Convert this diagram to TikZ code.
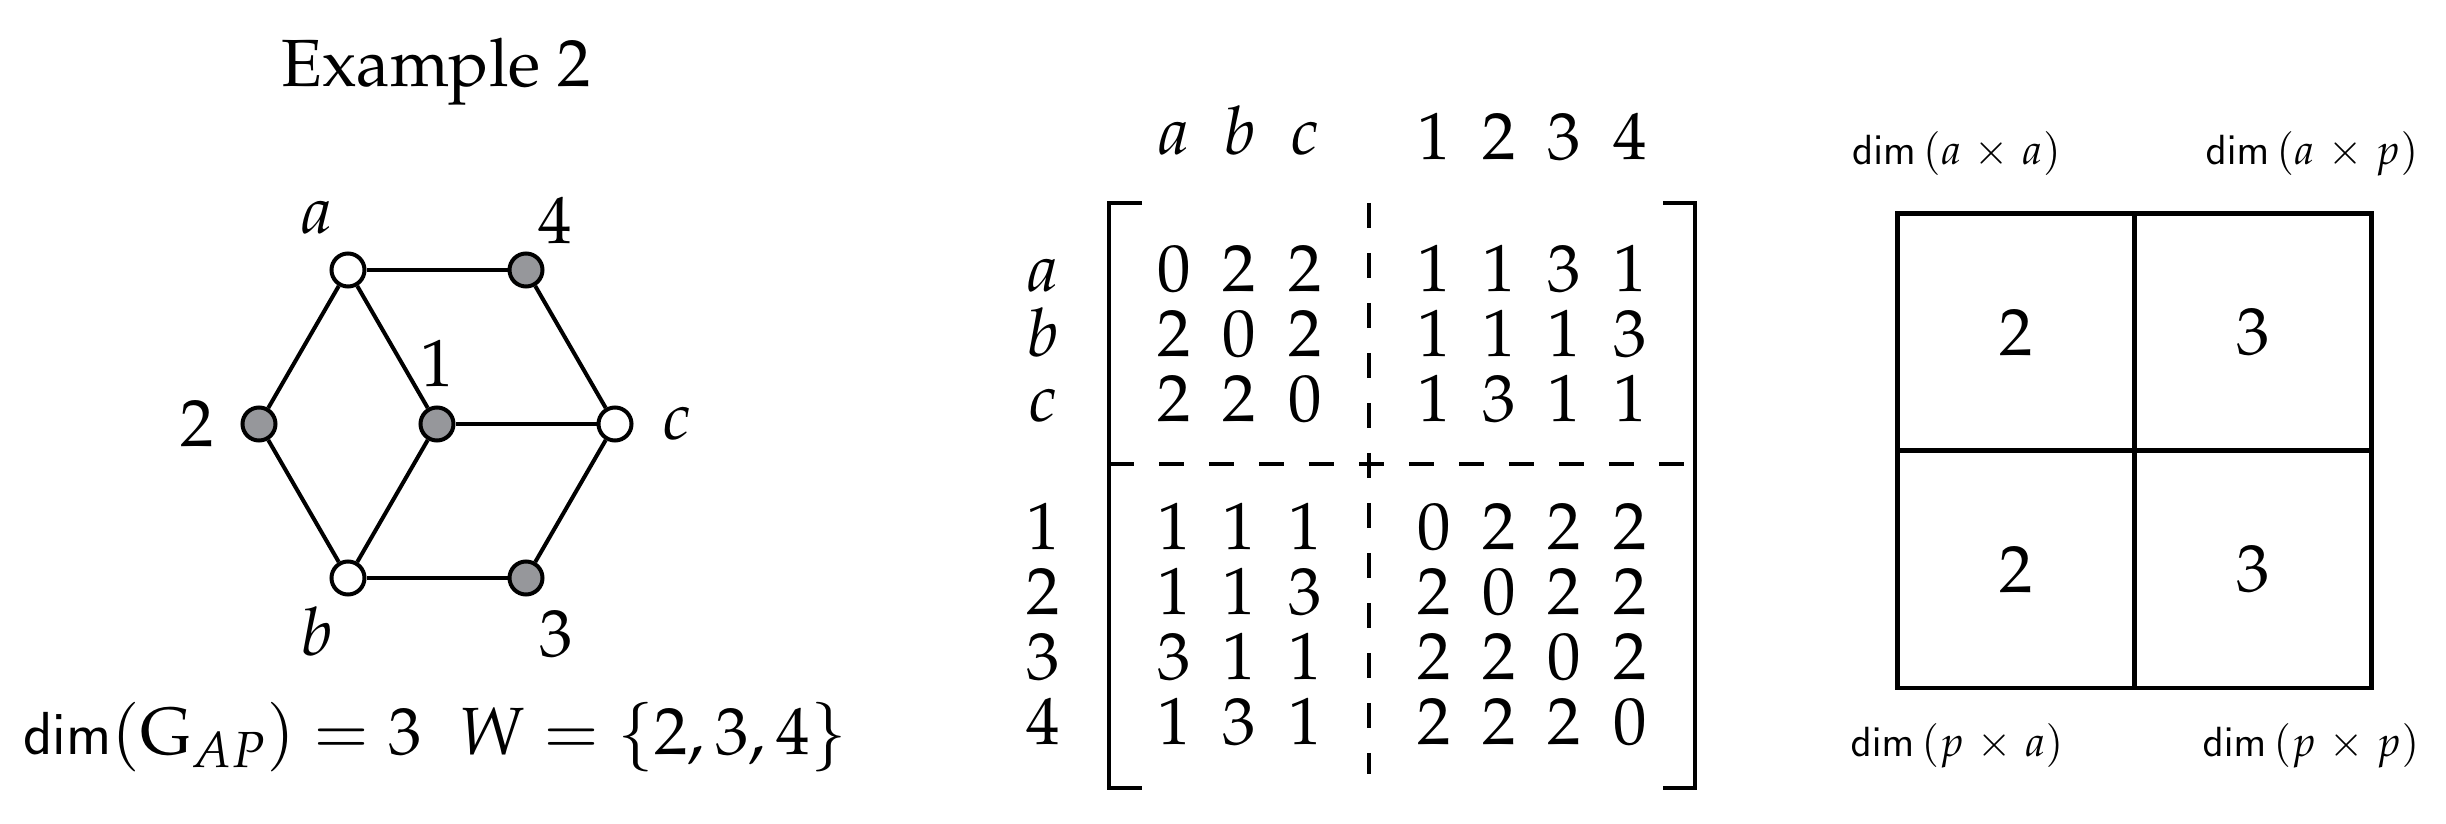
\documentclass[tikz,border=0pt]{standalone}
\usepackage[T1]{fontenc}
\usepackage{mathpazo}
\definecolor{vgray}{RGB}{150,151,155}

\begin{document}
\begin{tikzpicture}[
    line width=1.14pt,
    vert/.style={circle, draw, line width=1.14pt, inner sep=0pt, minimum size=0.33cm},
    avert/.style={vert, fill=white},
    pvert/.style={vert, fill=vgray},
    vlab/.style={inner sep=0pt, font=\fontsize{19}{23}\selectfont},
    entry/.style={anchor=base, inner sep=0pt, font=\fontsize{19}{23}\selectfont},
    cell/.style={draw, line width=1.42pt, minimum width=2.365cm, minimum height=2.37cm, inner sep=0pt, font=\fontsize{19}{23}\selectfont},
    dimlab/.style={anchor=base, inner sep=0pt, font=\fontsize{12}{14}\selectfont},
    blockdash/.style={dash pattern=on 0.25cm off 0.25cm}
  ]
    \useasboundingbox (0,0) rectangle (24.46,8.23);

    % title
    \node[entry] (title) at (4.36,7.36) {Example 2};

    % graph vertices
    \node[avert] (a) at (3.48,5.53) {};
    \node[pvert] (v4) at (5.26,5.53) {};
    \node[pvert] (v2) at (2.59,3.99) {};
    \node[pvert] (v1) at (4.37,3.99) {};
    \node[avert] (c) at (6.15,3.99) {};
    \node[avert] (b) at (3.48,2.45) {};
    \node[pvert] (v3) at (5.26,2.45) {};

    % edges
    \draw (a) -- (v4);
    \draw (a) -- (v2);
    \draw (a) -- (v1);
    \draw (v4) -- (c);
    \draw (v2) -- (b);
    \draw (v1) -- (b);
    \draw (v1) -- (c);
    \draw (c) -- (v3);
    \draw (b) -- (v3);

    % vertex labels
    \node[vlab] (la) at ([shift={(-0.31,0.52)}]a) {$a$};
    \node[vlab] (l4) at ([shift={(0.29,0.50)}]v4) {$4$};
    \node[vlab] (l1) at ([shift={(0,0.61)}]v1) {$1$};
    \node[vlab] (l2) at ([shift={(-0.62,0)}]v2) {$2$};
    \node[vlab] (lc) at ([shift={(0.62,0)}]c) {$c$};
    \node[vlab] (lb) at ([shift={(-0.31,-0.54)}]b) {$b$};
    \node[vlab] (l3) at ([shift={(0.30,-0.56)}]v3) {$3$};

    % dimension and resolving set
    \node[entry] (gdim) at (4.35,0.68) {$\mathsf{dim}(\mathrm{G}_{AP}) = 3\;\;W = \{2,3,4\}$};

    % column and row headers
    \foreach \lab [count=\i] in {a,b,c}
      \node[entry] (h\lab) at ({11.74+0.655*(\i-1)},6.68) {$\lab$};
    \foreach \lab [count=\i] in {1,2,3,4}
      \node[entry] (h\lab) at ({14.34+0.653*(\i-1)},6.63) {$\lab$};
    \foreach \lab [count=\i] in {a,b,c}
      \node[entry] (r\lab) at (10.43,{5.31-0.65*(\i-1)}) {$\lab$};
    \foreach \lab [count=\i] in {1,2,3,4}
      \node[entry] (r\lab) at (10.43,{2.73-0.65*(\i-1)}) {$\lab$};

    % brackets
    \draw (11.42,6.20) -- (11.09,6.20) -- (11.09,0.35) -- (11.42,0.35);
    \draw (16.63,6.20) -- (16.95,6.20) -- (16.95,0.35) -- (16.63,0.35);

    % block separators
    \draw[blockdash] (13.69,6.20) -- (13.69,0.49);
    \draw[blockdash] (11.09,3.59) -- (16.84,3.59);

    % blocks
    \foreach \vals [count=\i] in {{0,2,2},{2,0,2},{2,2,0}}
      \foreach \v [count=\j] in \vals
        \node[entry] (aa\i\j) at ({11.74+0.655*(\j-1)},{5.31-0.65*(\i-1)}) {$\v$};
    \foreach \vals [count=\i] in {{1,1,3,1},{1,1,1,3},{1,3,1,1}}
      \foreach \v [count=\j] in \vals
        \node[entry] (ap\i\j) at ({14.34+0.653*(\j-1)},{5.31-0.65*(\i-1)}) {$\v$};
    \foreach \vals [count=\i] in {{1,1,1},{1,1,3},{3,1,1},{1,3,1}}
      \foreach \v [count=\j] in \vals
        \node[entry] (pa\i\j) at ({11.74+0.655*(\j-1)},{2.73-0.65*(\i-1)}) {$\v$};
    \foreach \vals [count=\i] in {{0,2,2,2},{2,0,2,2},{2,2,0,2},{2,2,2,0}}
      \foreach \v [count=\j] in \vals
        \node[entry] (pp\i\j) at ({14.34+0.653*(\j-1)},{2.73-0.65*(\i-1)}) {$\v$};

    % dimension blocks
    \node[cell] (daa) at (20.16,4.905) {$2$};
    \node[cell] (dap) at (22.53,4.905) {$3$};
    \node[cell] (dpa) at (20.16,2.535) {$2$};
    \node[cell] (dpp) at (22.53,2.535) {$3$};

    \node[dimlab] (laa) at (19.565,6.58) {$\mathsf{dim}\,(a \mkern2mu\times\mkern2mu a)$};
    \node[dimlab] (lap) at (23.12,6.58) {$\mathsf{dim}\,(a \mkern2mu\times\mkern2mu p)$};
    \node[dimlab] (lpa) at (19.57,0.67) {$\mathsf{dim}\,(p \mkern2mu\times\mkern2mu a)$};
    \node[dimlab] (lpp) at (23.11,0.67) {$\mathsf{dim}\,(p \mkern2mu\times\mkern2mu p)$};
\end{tikzpicture}
\end{document}
